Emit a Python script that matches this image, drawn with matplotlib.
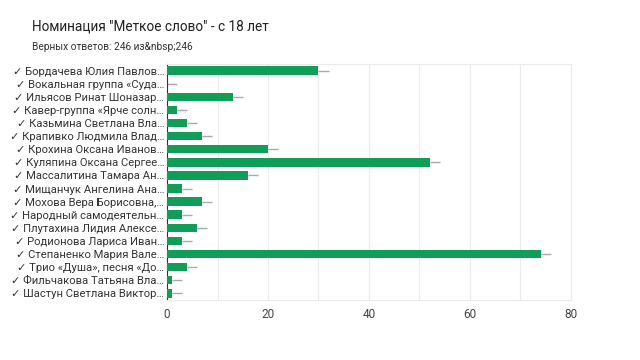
import numpy as np
import matplotlib.pyplot as plt

plt.rcParams['font.family'] = ['Roboto', 'DejaVu Sans']

title = 'Номинация "Меткое слово" - с 18 лет'
subtitle = 'Верных ответов: 246 из&nbsp;246'

names = [
    "✓ Бордачева Юлия Павлов…",
    "✓ Вокальная группа «Суда…",
    "✓ Ильясов Ринат Шоназар…",
    "✓ Кавер-группа «Ярче солн…",
    "✓ Казьмина Светлана Вла…",
    "✓ Крапивко Людмила Влад…",
    "✓ Крохина Оксана Иванов…",
    "✓ Куляпина Оксана Сергее…",
    "✓ Массалитина Тамара Ан…",
    "✓ Мищанчук Ангелина Ана…",
    "✓ Мохова Вера Борисовна,…",
    "✓ Народный самодеятельн…",
    "✓ Плутахина Лидия Алексе…",
    "✓ Родионова Лариса Иван…",
    "✓ Степаненко Мария Вале…",
    "✓ Трио «Душа», песня «До…",
    "✓ Фильчакова Татьяна Вла…",
    "✓ Шастун Светлана Виктор…",
]
votes = [30, 0, 13, 2, 4, 7, 20, 52, 16, 3, 7, 3, 6, 3, 74, 4, 1, 1]
err = [2] * len(votes)
xticks = [0, 20, 40, 60, 80]

fig = plt.figure(figsize=(6.4, 3.6), dpi=100)
ax = fig.add_axes([0.261, 0.167, 0.631, 0.655])

y = np.arange(len(names))
ax.barh(y, votes, height=0.65, color='#0f9d58', zorder=3)
ax.errorbar(votes, y, xerr=[np.zeros(len(err)), err], fmt='none',
            ecolor='#aaaaaa', elinewidth=1, capsize=0, zorder=2)

ax.set_ylim(len(names) - 0.5, -0.5)
ax.set_xlim(0, 80)
ax.set_yticks(y)
ax.set_yticklabels(names, fontsize=8.1, color='#333333')
ax.set_xticks(xticks)
ax.set_xticks(np.arange(0, 81, 10), minor=True)
ax.tick_params(axis='x', labelsize=8.5, colors='#444444', length=0, pad=6)
ax.tick_params(axis='x', which='minor', length=0)
ax.tick_params(axis='y', length=0, pad=2)
ax.grid(axis='x', which='both', color='#ebebeb', linewidth=0.8, zorder=0)

for side in ['top', 'right', 'bottom']:
    ax.spines[side].set_color('#ebebeb')
ax.spines['left'].set_color('#333333')

fig.text(0.05, 0.915, title, fontsize=9.8, color='#212121')
fig.text(0.05, 0.862, subtitle, fontsize=7.3, color='#333333')

fig.savefig('out.png', dpi=100)
